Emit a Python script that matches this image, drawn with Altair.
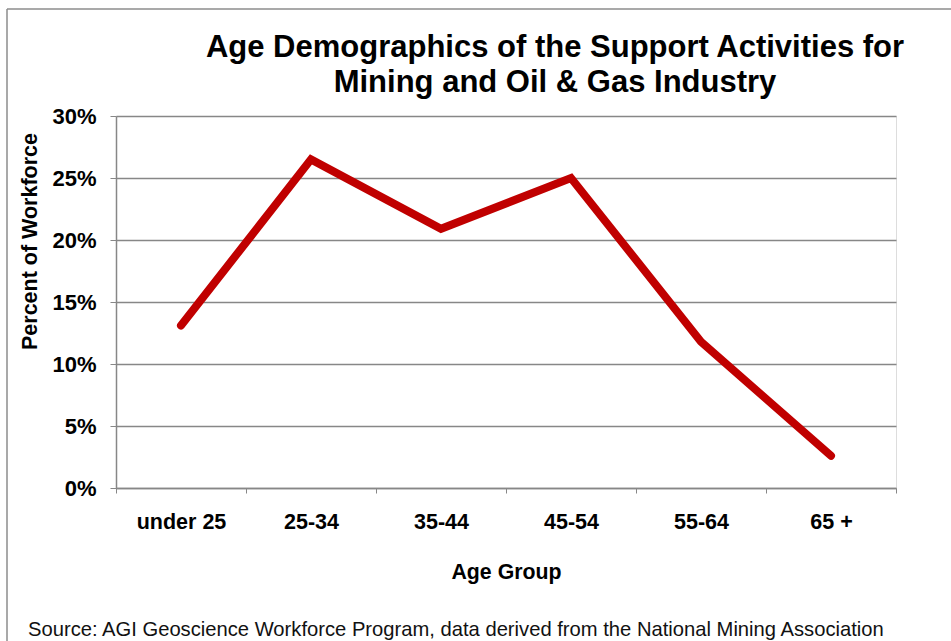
import altair as alt
import pandas as pd

categories = ["under 25", "25-34", "35-44", "45-54", "55-64", "65 +"]
values = [13.1, 26.5, 20.9, 25.0, 11.8, 2.6]
y_ticks = [0, 0.05, 0.10, 0.15, 0.20, 0.25, 0.30]
title_lines = ["Age Demographics of the Support Activities for", "Mining and Oil & Gas Industry"]
source_text = ["Source: AGI Geoscience Workforce Program, data derived from the National Mining Association"]

FONT = "Liberation Sans"
GRAY = "#878787"

df = pd.DataFrame({"age": categories, "pct": [v / 100 for v in values]})

line = alt.Chart(df).mark_line(
    color="#C00000", strokeWidth=8, strokeCap="round", strokeJoin="miter"
).encode(
    x=alt.X(
        "age:N", sort=categories, bandPosition=0.5,
        scale=alt.Scale(type="band", paddingInner=0, paddingOuter=0),
        axis=alt.Axis(
            title="Age Group", labelAngle=0, tickBand="extent", grid=False,
            labelFont=FONT, labelFontSize=21.5, labelFontWeight="bold", labelColor="black",
            labelPadding=18, tickSize=5, tickColor=GRAY, domainColor=GRAY, domainWidth=1.5,
            titleFont=FONT, titleFontSize=21.3, titleFontWeight="bold", titleColor="black",
            titlePadding=29,
        ),
    ),
    y=alt.Y(
        "pct:Q", scale=alt.Scale(domain=[0, 0.3], nice=False),
        axis=alt.Axis(
            title="Percent of Workforce", format=".0%", values=y_ticks,
            grid=True, gridColor=GRAY, gridWidth=1.5,
            labelFont=FONT, labelFontSize=22, labelFontWeight="bold", labelColor="black",
            labelPadding=14, tickSize=6, tickColor=GRAY, domainColor=GRAY, domainWidth=1.5,
            titleFont=FONT, titleFontSize=21.5, titleFontWeight="bold", titleColor="black",
            titlePadding=10, titleY=125,
        ),
    ),
)

title1 = alt.Chart(pd.DataFrame({"t": title_lines[:1]})).mark_text(
    align="center", baseline="alphabetic", fontSize=31, fontWeight="bold", font=FONT, color="black"
).encode(x=alt.value(439), y=alt.value(-59), text="t:N")
title2 = alt.Chart(pd.DataFrame({"t": title_lines[1:]})).mark_text(
    align="center", baseline="alphabetic", fontSize=31, fontWeight="bold", font=FONT, color="black"
).encode(x=alt.value(439), y=alt.value(-24), text="t:N")

src = alt.Chart(pd.DataFrame({"t": source_text})).mark_text(
    align="left", baseline="middle", fontSize=20.2, font=FONT, color="#111111"
).encode(x=alt.value(-88), y=alt.value(514), text="t:N")

frame_left = alt.Chart(pd.DataFrame({"a": [0]})).mark_rule(color="#8c8c8c", strokeWidth=1.5).encode(
    x=alt.value(-109), y=alt.value(-107), y2=alt.value(540)
)
frame_top = alt.Chart(pd.DataFrame({"a": [0]})).mark_rule(color="#8c8c8c", strokeWidth=1.5).encode(
    x=alt.value(-109), x2=alt.value(850), y=alt.value(-107)
)

chart = alt.layer(frame_left, frame_top, title1, title2, line, src).properties(
    width=780, height=372,
    autosize=alt.AutoSizeParams(type="none"),
    padding={"left": 116, "top": 116, "right": 55, "bottom": 153},
).configure_view(stroke=None).configure(background="white")

chart.save("out.html", embed_options={"renderer": "svg", "actions": False})
